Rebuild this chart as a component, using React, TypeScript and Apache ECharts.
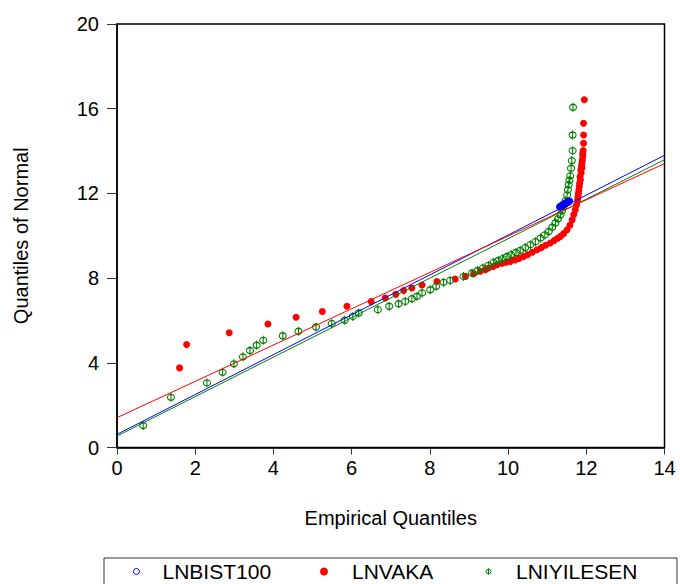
import React, { useEffect, useRef } from "react";
import * as echarts from "echarts";

const xTicks = { min: 0, max: 14, interval: 2 };
const yTicks = { min: 0, max: 20, interval: 4 };

const seriesNames = ["LNBIST100", "LNVAKA", "LNIYILESEN"];

const bistPoints: number[][] = [
  [11.32, 11.36], [11.33, 11.38], [11.35, 11.4], [11.36, 11.39], [11.37, 11.42],
  [11.38, 11.44], [11.4, 11.45], [11.41, 11.47], [11.42, 11.46], [11.43, 11.49],
  [11.44, 11.5], [11.45, 11.52], [11.46, 11.51], [11.47, 11.53], [11.48, 11.55],
  [11.49, 11.54], [11.5, 11.56], [11.51, 11.58], [11.52, 11.57], [11.53, 11.59],
  [11.54, 11.61], [11.55, 11.6], [11.56, 11.62], [11.57, 11.64],
];

const vakaPoints: number[][] = [
  [1.6, 3.76], [1.78, 4.86], [2.87, 5.42], [3.86, 5.83], [4.58, 6.15], [5.25, 6.42],
  [5.88, 6.67], [6.5, 6.89], [6.86, 7.06], [7.13, 7.23], [7.33, 7.41], [7.54, 7.53],
  [7.8, 7.67], [8.18, 7.84], [8.65, 7.96], [8.91, 8.08], [9.12, 8.21], [9.29, 8.32],
  [9.42, 8.4], [9.5, 8.48], [9.62, 8.55], [9.72, 8.63], [9.85, 8.7], [9.95, 8.75],
  [10.06, 8.79], [10.18, 8.86], [10.28, 8.93], [10.4, 9.02], [10.5, 9.1], [10.62, 9.22],
  [10.74, 9.34], [10.85, 9.44], [10.96, 9.55], [11.08, 9.66], [11.18, 9.78], [11.27, 9.88],
  [11.34, 9.97], [11.42, 10.1], [11.51, 10.28], [11.58, 10.5], [11.64, 10.75], [11.68, 11.0],
  [11.72, 11.23], [11.75, 11.45], [11.78, 11.7], [11.79, 11.85], [11.8, 12.0], [11.81, 12.15],
  [11.82, 12.33], [11.83, 12.48], [11.85, 12.65], [11.84, 12.8], [11.87, 12.96], [11.86, 13.1],
  [11.89, 13.2], [11.88, 13.3], [11.89, 13.43], [11.9, 13.58], [11.91, 13.75], [11.91, 13.88],
  [11.92, 14.02], [11.93, 14.37], [11.93, 14.76], [11.93, 15.31], [11.95, 16.42],
];

const iyilesenPoints: number[][] = [
  [0.67, 1.04], [1.38, 2.37], [2.3, 3.05], [2.7, 3.55], [2.99, 3.95], [3.22, 4.28],
  [3.4, 4.58], [3.57, 4.83], [3.74, 5.06], [4.24, 5.28], [4.64, 5.49], [5.09, 5.69],
  [5.49, 5.86], [5.82, 6.01], [6.03, 6.19], [6.18, 6.35], [6.67, 6.51], [6.96, 6.67],
  [7.2, 6.79], [7.37, 6.9], [7.54, 7.03], [7.67, 7.14], [7.8, 7.3], [8.01, 7.45],
  [8.16, 7.61], [8.35, 7.8], [8.52, 7.89], [8.86, 8.08], [9.08, 8.24], [9.22, 8.36],
  [9.36, 8.48], [9.5, 8.6], [9.63, 8.74], [9.75, 8.83], [9.86, 8.92], [9.97, 9.02],
  [10.08, 9.11], [10.2, 9.21], [10.31, 9.31], [10.44, 9.44], [10.57, 9.58], [10.7, 9.72],
  [10.83, 9.89], [10.94, 10.04], [11.04, 10.2], [11.13, 10.4], [11.21, 10.6], [11.28, 10.8],
  [11.34, 10.99], [11.38, 11.18], [11.42, 11.38], [11.47, 11.65], [11.51, 11.93], [11.53, 12.17],
  [11.55, 12.41], [11.57, 12.62], [11.59, 12.83], [11.61, 13.19], [11.63, 13.55], [11.65, 14.02],
  [11.65, 14.76], [11.66, 16.07],
];

// reference (fitted) lines: value at x = 0 and at x = 14
const bistLine: number[][] = [[0, 0.62], [14, 13.8]];
const vakaLine: number[][] = [[0, 1.41], [14, 13.41]];
const iyilesenLine: number[][] = [[0, 0.54], [14, 13.59]];

const BLUE = "#0000ff";
const RED = "#ff0000";
const GREEN = "#008000";
const FONT = "'Liberation Sans', Arial, sans-serif";
const PHI = "path://M35,0 L35,90 M0,45 A35,30 0 1,1 70,45 A35,30 0 1,1 0,45 Z";

export default function App() {
  const ref = useRef<HTMLDivElement>(null);
  useEffect(() => {
    if (!ref.current) return;
    const chart = echarts.init(ref.current, null, { renderer: "svg" });
    const legendText = (pad: number) => ({
      fontSize: 21,
      color: "#000",
      fontFamily: FONT,
      padding: [0, 0, 0, pad],
    });
    chart.setOption({
      animation: false,
      backgroundColor: "#fff",
      grid: {
        left: 117,
        top: 24,
        right: 15.5,
        bottom: 136.5,
        show: true,
        borderColor: "#000",
        borderWidth: 1.5,
      },
      xAxis: {
        type: "value",
        min: xTicks.min,
        max: xTicks.max,
        interval: xTicks.interval,
        name: "Empirical Quantiles",
        nameLocation: "middle",
        nameGap: 60,
        nameTextStyle: { fontSize: 20, color: "#000", fontFamily: FONT },
        splitLine: { show: false },
        axisLine: { onZero: false, lineStyle: { color: "#000", width: 1.5 } },
        axisTick: { length: 7, lineStyle: { color: "#333", width: 1 } },
        axisLabel: { fontSize: 20, color: "#000", fontFamily: FONT, margin: 10 },
      },
      yAxis: {
        type: "value",
        min: yTicks.min,
        max: yTicks.max,
        interval: yTicks.interval,
        name: "Quantiles of Normal",
        nameLocation: "middle",
        nameGap: 86,
        nameTextStyle: { fontSize: 20, color: "#000", fontFamily: FONT },
        splitLine: { show: false },
        axisLine: { onZero: false, lineStyle: { color: "#000", width: 1.5 } },
        axisTick: { length: 10, lineStyle: { color: "#333", width: 1 } },
        axisLabel: { fontSize: 20, color: "#000", fontFamily: FONT, margin: 18 },
      },
      legend: [
        {
          left: 133,
          top: 561,
          padding: 0,
          itemWidth: 6,
          itemHeight: 6,
          selectedMode: false,
          data: [
            {
              name: seriesNames[0],
              icon: "circle",
              itemStyle: { color: "transparent", borderColor: BLUE, borderWidth: 1 },
            },
          ],
          textStyle: legendText(18),
        },
        {
          left: 320,
          top: 561,
          padding: 0,
          itemWidth: 8,
          itemHeight: 8,
          selectedMode: false,
          data: [{ name: seriesNames[1], icon: "circle", itemStyle: { color: RED } }],
          textStyle: legendText(19),
        },
        {
          left: 485.5,
          top: 561,
          padding: 0,
          itemWidth: 5,
          itemHeight: 7,
          selectedMode: false,
          data: [
            {
              name: seriesNames[2],
              icon: PHI,
              itemStyle: { color: "transparent", borderColor: GREEN, borderWidth: 1 },
            },
          ],
          textStyle: legendText(20),
        },
      ],
      graphic: [
        {
          type: "rect",
          shape: { x: 104, y: 558, width: 573, height: 40 },
          style: { fill: "none", stroke: "#333", lineWidth: 1 },
          silent: true,
        },
      ],
      series: [
        {
          name: seriesNames[1],
          type: "scatter",
          data: vakaPoints,
          symbol: "circle",
          symbolSize: 7,
          itemStyle: { color: RED, opacity: 1 },
          z: 2,
        },
        {
          name: seriesNames[2],
          type: "scatter",
          data: iyilesenPoints,
          symbol: PHI,
          symbolSize: [7, 9],
          itemStyle: { color: "transparent", borderColor: GREEN, borderWidth: 1.2, opacity: 1 },
          z: 3,
        },
        {
          name: seriesNames[0],
          type: "scatter",
          data: bistPoints,
          symbol: "circle",
          symbolSize: 6,
          itemStyle: { color: "transparent", borderColor: BLUE, borderWidth: 1.2, opacity: 1 },
          z: 4,
        },
        {
          name: "LNBIST100 line",
          type: "line",
          data: bistLine,
          symbol: "none",
          lineStyle: { color: BLUE, width: 1 },
          z: 5,
        },
        {
          name: "LNIYILESEN line",
          type: "line",
          data: iyilesenLine,
          symbol: "none",
          lineStyle: { color: GREEN, width: 1 },
          z: 5,
        },
        {
          name: "LNVAKA line",
          type: "line",
          data: vakaLine,
          symbol: "none",
          lineStyle: { color: RED, width: 1 },
          z: 5,
        },
      ],
    });
    return () => chart.dispose();
  }, []);
  return (
    <div
      ref={ref}
      style={{ position: "fixed", left: 0, top: 0, width: 680, height: 584 }}
    />
  );
}
